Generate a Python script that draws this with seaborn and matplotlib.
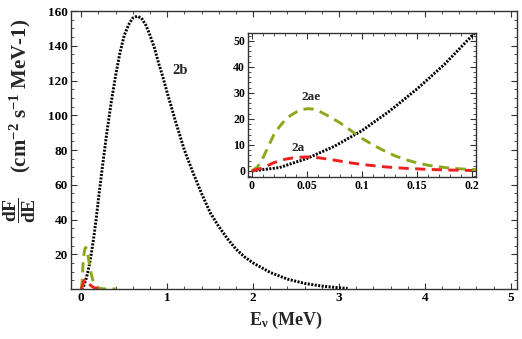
import numpy as np
import pandas as pd
import matplotlib
matplotlib.use("Agg")
import matplotlib.pyplot as plt
from matplotlib.ticker import MultipleLocator, FixedLocator, FuncFormatter
import seaborn as sns

# Spectrum 2b (black, dotted)
e_2b = [0.0, 0.025, 0.05, 0.075, 0.1, 0.125, 0.15, 0.175, 0.2, 0.25, 0.3, 0.35, 0.4,
        0.45, 0.5, 0.55, 0.6, 0.65, 0.7, 0.75, 0.8, 0.85, 0.9, 0.95, 1.0, 1.1, 1.2,
        1.3, 1.4, 1.5, 1.6, 1.7, 1.8, 1.9, 2.0, 2.2, 2.4, 2.6, 2.8, 3.0, 3.1]
f_2b = [0.0, 1.3, 4.8, 9.5, 15.5, 23.0, 31.5, 41.0, 52.0, 72.0, 91.0, 108.0, 123.0,
        136.0, 146.0, 152.0, 156.0, 157.0, 156.0, 152.0, 146.0, 139.0, 130.0, 122.0,
        113.0, 96.0, 80.0, 67.0, 55.0, 44.0, 36.0, 29.0, 23.0, 18.5, 15.0, 9.5, 5.7,
        3.2, 1.7, 0.7, 0.4]

# Spectrum 2ae (green, dashed)
e_2ae = [0.0, 0.005, 0.01, 0.015, 0.02, 0.025, 0.03, 0.035, 0.04, 0.045, 0.05, 0.055,
         0.06, 0.07, 0.08, 0.09, 0.1, 0.11, 0.12, 0.13, 0.14, 0.15, 0.16, 0.17, 0.18,
         0.19, 0.2, 0.25, 0.3, 0.4]
f_2ae = [0.0, 1.5, 5.0, 9.5, 14.0, 17.0, 19.5, 21.3, 22.6, 23.5, 23.9, 23.8, 23.2,
         21.0, 18.5, 15.5, 12.5, 10.0, 7.8, 5.8, 4.3, 3.1, 2.2, 1.6, 1.1, 0.8, 0.55,
         0.1, 0.02, 0.0]

# Spectrum 2a (red, dashed)
e_2a = [0.0, 0.01, 0.02, 0.03, 0.04, 0.05, 0.06, 0.07, 0.08, 0.09, 0.1, 0.12, 0.14,
        0.16, 0.18, 0.2]
f_2a = [0.0, 1.2, 3.2, 4.5, 5.2, 5.4, 5.1, 4.5, 3.8, 3.1, 2.5, 1.6, 1.0, 0.6, 0.35, 0.2]

df_b = pd.DataFrame({"E": e_2b, "F": f_2b})
df_ae = pd.DataFrame({"E": e_2ae, "F": f_2ae})
df_a = pd.DataFrame({"E": e_2a, "F": f_2a})

sns.set_style("ticks")
plt.rcParams["font.family"] = ["Liberation Serif", "DejaVu Serif"]
plt.rcParams["font.weight"] = "bold"
plt.rcParams["mathtext.fontset"] = "custom"
plt.rcParams["mathtext.rm"] = "Liberation Serif:weight=bold"
plt.rcParams["mathtext.bf"] = "Liberation Serif:weight=bold"
plt.rcParams["mathtext.it"] = "Liberation Serif:weight=bold"
plt.rcParams["mathtext.default"] = "rm"

black = "#000000"
green = "#8aa81c"
red = "#ee2020"

fmt = FuncFormatter(lambda v, p: f"{v:g}")


def draw_curves(ax, lw):
    sns.lineplot(data=df_b, x="E", y="F", ax=ax, color=black, lw=lw,
                 linestyle=(0, (0.7, 0.5)))
    sns.lineplot(data=df_ae, x="E", y="F", ax=ax, color=green, lw=lw,
                 linestyle=(0, (3.5, 2.2)))
    sns.lineplot(data=df_a, x="E", y="F", ax=ax, color=red, lw=lw,
                 linestyle=(0, (3.5, 2.2)))


def frame_style(ax, size):
    for s in ax.spines.values():
        s.set_color("#333333")
        s.set_linewidth(1.0)
    ax.tick_params(which="both", direction="in", top=True, right=True,
                   labelsize=size, pad=2, colors="#333333", labelcolor="black")
    ax.tick_params(which="major", length=4, width=0.8)
    ax.tick_params(which="minor", length=2, width=0.6)
    ax.xaxis.set_major_formatter(fmt)
    ax.yaxis.set_major_formatter(fmt)
    ax.set_xlabel("")
    ax.set_ylabel("")


fig = plt.figure(figsize=(5.22, 3.39), dpi=100)
ax = fig.add_axes([0.136, 0.1475, 0.854, 0.82])
draw_curves(ax, 2.1)
ax.set_xlim(-0.12, 5.07)
ax.set_ylim(0, 160)
ax.xaxis.set_major_locator(MultipleLocator(1))
ax.xaxis.set_minor_locator(MultipleLocator(0.2))
ax.yaxis.set_major_locator(FixedLocator([20, 40, 60, 80, 100, 120, 140, 160]))
ax.yaxis.set_minor_locator(MultipleLocator(5))
frame_style(ax, 9.5)

# axis labels
fig.text(286 / 522, 1 - 320 / 339, r"E$_{\nu}$ (MeV)", fontsize=13,
         fontweight="bold", ha="center", va="center")
fig.text(20 / 522, 1 - 210 / 339, r"$\dfrac{dF}{dE}$", fontsize=14,
         rotation=90, ha="center", va="center")
fig.text(20 / 522, 1 - 96 / 339, r"(cm$^{-2}$ s$^{-1}$ MeV-1)", fontsize=15,
         fontweight="bold", rotation=90, ha="center", va="center")

ax.text(1.145, 125.6, "2b", fontsize=10.5, fontweight="bold", ha="center", va="center")

ins = fig.add_axes([0.475, 0.478, 0.437, 0.4247])
draw_curves(ins, 2.1)
ins.set_xlim(-0.0036, 0.2036)
ins.set_ylim(-2.3, 53)
ins.xaxis.set_major_locator(FixedLocator([0, 0.05, 0.1, 0.15, 0.2]))
ins.xaxis.set_minor_locator(MultipleLocator(0.01))
ins.yaxis.set_major_locator(FixedLocator([0, 10, 20, 30, 40, 50]))
ins.yaxis.set_minor_locator(MultipleLocator(2))
frame_style(ins, 8.5)
ins.text(0.0536, 28.5, "2ae", fontsize=9.5, fontweight="bold", ha="center", va="center")
ins.text(0.0423, 9.0, "2a", fontsize=9.5, fontweight="bold", ha="center", va="center")

fig.savefig("out.png", dpi=100)
